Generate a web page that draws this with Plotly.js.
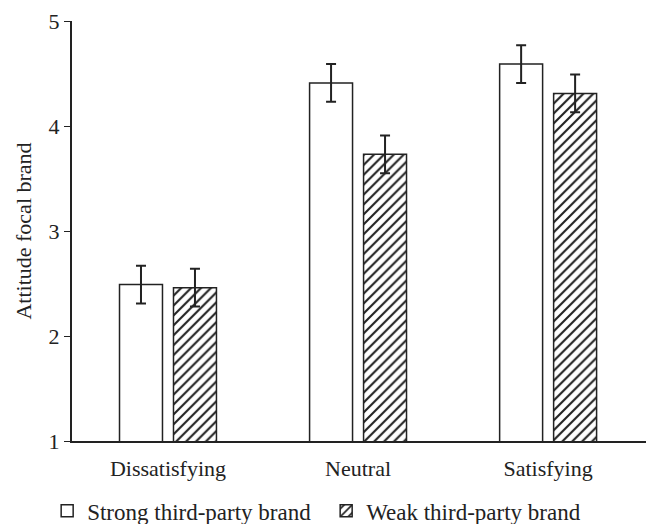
<!DOCTYPE html>
<html>
<head>
<meta charset="utf-8">
<script src="https://cdn.plot.ly/plotly-3.0.1.min.js"></script>
<style>html,body{margin:0;padding:0;background:#fff;}#chart{width:646px;height:524px;}</style>
</head>
<body>
<div id="chart"></div>
<script>
const categories = ["Dissatisfying", "Neutral", "Satisfying"];
const strongValues = [2.49, 4.41, 4.59];
const strongErrors = [0.18, 0.18, 0.18];
const weakValues = [2.46, 3.73, 4.31];
const weakErrors = [0.18, 0.18, 0.18];
const seriesNames = ["Strong third-party brand", "Weak third-party brand"];
const yTicks = [1, 2, 3, 4, 5];

const font = {family: "Liberation Serif", size: 22, color: "#222"};
const legendFont = {family: "Liberation Serif", size: 23, color: "#222"};
const errStyle = {type: "data", visible: true, color: "#222", thickness: 2, width: 5};

const traces = [
  {
    type: "bar", name: seriesNames[0], x: categories, y: strongValues,
    error_y: Object.assign({array: strongErrors}, errStyle),
    marker: {color: "#ffffff", line: {color: "#222", width: 1.5}}
  },
  {
    type: "bar", name: seriesNames[1], x: categories, y: weakValues,
    error_y: Object.assign({array: weakErrors}, errStyle),
    marker: {color: "#ffffff", line: {color: "#222", width: 1.5},
      pattern: {shape: "/", fgcolor: "#222", bgcolor: "#ffffff", size: 7, solidity: 0.3}}
  }
];

const layout = {
  width: 646, height: 524,
  margin: {l: 72, r: 0, t: 21, b: 83},
  paper_bgcolor: "#fff", plot_bgcolor: "#fff",
  font: font,
  barmode: "group", bargap: 0.432, bargroupgap: 0.204,
  showlegend: true,
  legend: {orientation: "h", x: 0.073, xref: "container", xanchor: "left",
    y: 0.025, yref: "container", yanchor: "middle",
    font: legendFont, traceorder: "normal", itemwidth: 30, tracegroupgap: 0,
    entrywidth: 234, entrywidthmode: "pixels"},
  xaxis: {
    range: [-0.505, 2.515], showline: true, linecolor: "#222", linewidth: 2,
    ticks: "outside", ticklen: 7, tickcolor: "rgba(0,0,0,0)",
    showgrid: false, zeroline: false, tickfont: font
  },
  yaxis: {
    range: [1, 5], tickvals: yTicks, ticktext: yTicks.map(String),
    showline: true, linecolor: "#222", linewidth: 2, ticks: "outside", ticklen: 6,
    tickcolor: "#222", tickwidth: 1, showgrid: false, zeroline: false, tickfont: font,
    title: {text: "Attitude focal brand", font: font, standoff: 11}
  }
};

Plotly.newPlot("chart", traces, layout, {displayModeBar: false, staticPlot: true});
</script>
</body>
</html>
